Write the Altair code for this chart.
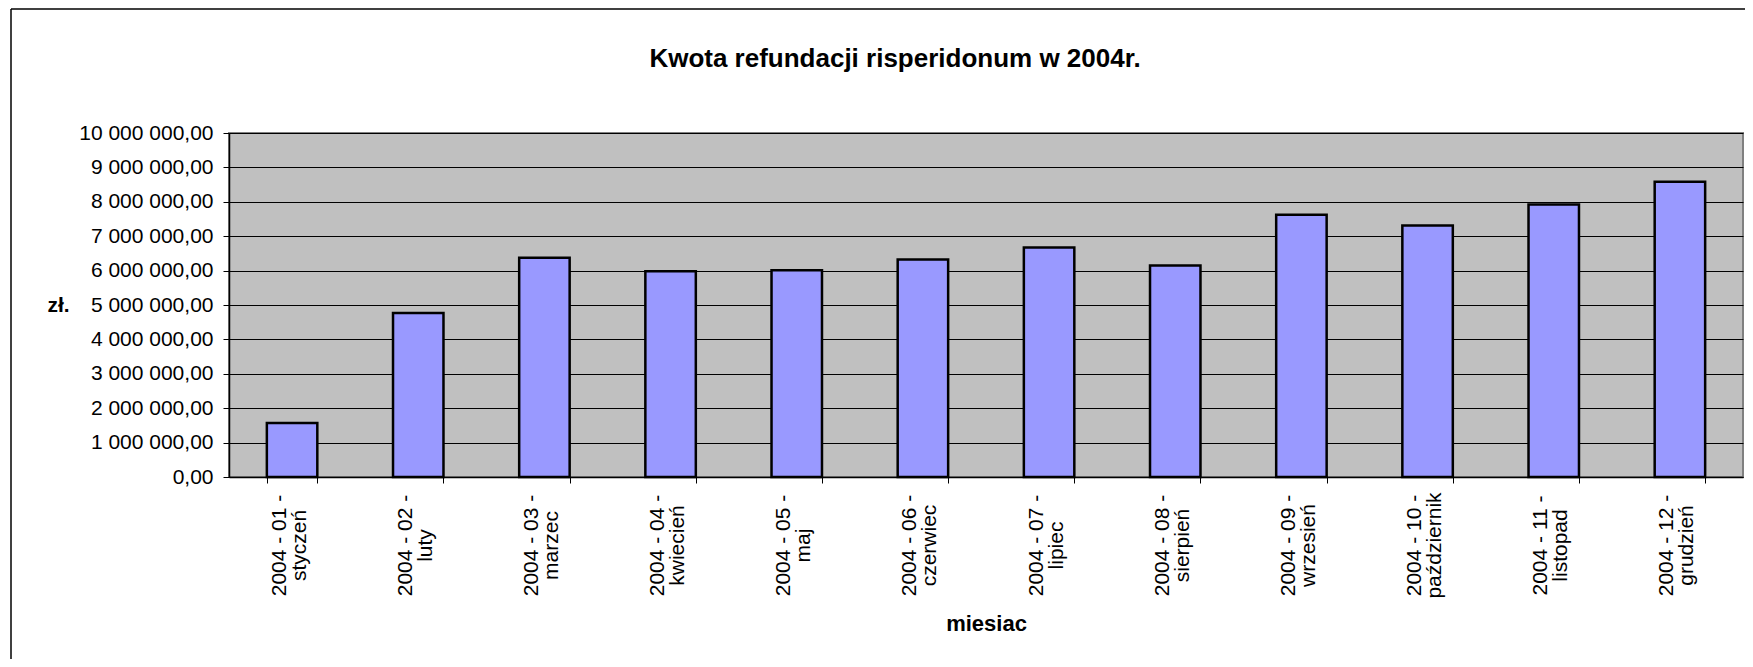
import altair as alt
import pandas as pd

# ---- data ----
months = [
    "2004 - 01 -\nstyczeń",
    "2004 - 02 -\nluty",
    "2004 - 03 -\nmarzec",
    "2004 - 04 -\nkwiecień",
    "2004 - 05 -\nmaj",
    "2004 - 06 -\nczerwiec",
    "2004 - 07 -\nlipiec",
    "2004 - 08 -\nsierpień",
    "2004 - 09 -\nwrzesień",
    "2004 - 10 -\npaździernik",
    "2004 - 11 -\nlistopad",
    "2004 - 12 -\ngrudzień",
]
values = [1570000, 4770000, 6370000, 5980000, 6010000, 6320000,
          6670000, 6150000, 7620000, 7310000, 7920000, 8580000]
y_ticks = [0, 1000000, 2000000, 3000000, 4000000, 5000000,
           6000000, 7000000, 8000000, 9000000, 10000000]
chart_title = "Kwota refundacji risperidonum w 2004r."
x_title = "miesiac"
y_title = "zł."

df = pd.DataFrame({"miesiac": months, "kwota": values})
one = pd.DataFrame({"a": [0]})

W, H = 1514, 344
FONT = "Liberation Sans"

bars = alt.Chart(df).mark_bar(
    color="#9999FF", stroke="#000000", strokeWidth=2.5
).encode(
    x=alt.X(
        "miesiac:N", sort=months, title=x_title,
        scale=alt.Scale(paddingInner=0.6, paddingOuter=0.3),
        axis=alt.Axis(
            labelAngle=-90, labelAlign="center", labelBaseline="middle",
            labelExpr="split(datum.label, '\\n')",
            labelLineHeight=20, labelPadding=62, labelOffset=-13,
            labelOverlap=False, labelBound=False, labelFontSize=21,
            labelFont=FONT, labelColor="#000000",
            tickBand="extent", tickSize=6, tickColor="#000000",
            domainColor="#000000", domainWidth=1.5, grid=False,
            titleFont=FONT, titleFontSize=22, titleFontWeight="bold",
            titleColor="#000000", titleY=146, titleBaseline="middle",
        ),
    ),
    y=alt.Y(
        "kwota:Q", title=y_title,
        scale=alt.Scale(domain=[0, 10000000], nice=False),
        axis=alt.Axis(
            values=y_ticks,
            labelExpr="replace(replace(format(datum.value, ',.2f'), regexp(',', 'g'), ' '), '.', ',')",
            labelFontSize=21, labelFont=FONT, labelColor="#000000",
            labelPadding=10, tickSize=6, tickColor="#000000",
            domainColor="#000000", domainWidth=1.5,
            grid=True, gridColor="#000000", gridWidth=1,
            titleAngle=0, titleX=-171, titleY=172, titleAlign="center",
            titleBaseline="middle", titleFont=FONT, titleFontSize=21,
            titleFontWeight="bold", titleColor="#000000",
        ),
    ),
)

title_text = alt.Chart(one).mark_text(
    text=chart_title, font=FONT, fontSize=26, fontWeight="bold",
    align="center", baseline="alphabetic", color="#000000",
).encode(x=alt.value(666), y=alt.value(-66))

frame_top = alt.Chart(one).mark_rule(color="#000000", strokeWidth=1.5).encode(
    x=alt.value(-218), x2=alt.value(W + 20), y=alt.value(-124)
)
frame_left = alt.Chart(one).mark_rule(color="#000000", strokeWidth=1.5).encode(
    x=alt.value(-218), y=alt.value(-124), y2=alt.value(H + 200)
)

chart = alt.layer(frame_top, frame_left, bars, title_text).properties(
    width=W, height=H,
    autosize=alt.AutoSizeParams(type="none"),
    padding={"left": 221, "top": 125, "right": 2, "bottom": 182},
    background="#FFFFFF",
).configure(
    font=FONT
).configure_view(
    fill="#C0C0C0", stroke="#808080", strokeWidth=2
)

chart.save("out.html", embed_options={"renderer": "svg", "actions": False})
